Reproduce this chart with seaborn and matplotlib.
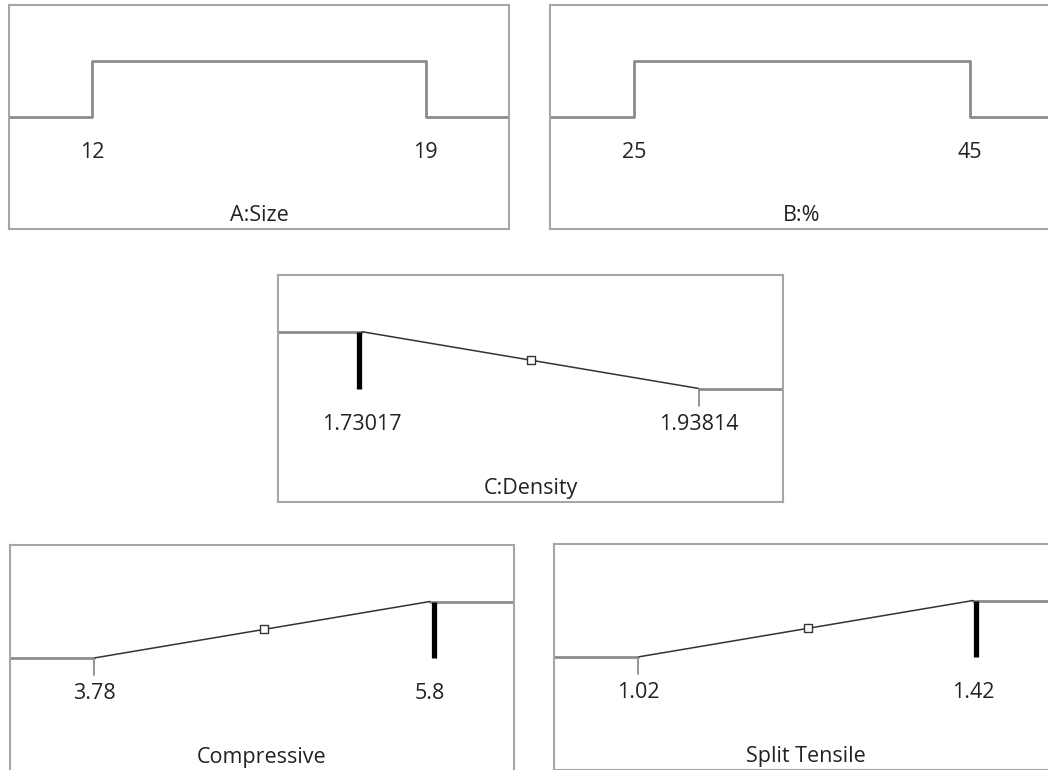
import numpy as np
import pandas as pd
import matplotlib.pyplot as plt
import seaborn as sns

# factor / response ramps (Design-Expert style desirability)
names = ["A:Size", "B:%", "C:Density", "Compressive", "Split Tensile"]
low = [12, 25, 1.73017, 3.78, 1.02]
high = [19, 45, 1.93814, 5.8, 1.42]
low_txt = ["12", "25", "1.73017", "3.78", "1.02"]
high_txt = ["19", "45", "1.93814", "5.8", "1.42"]
goal = ["range", "range", "minimize", "maximize", "maximize"]
solution = [None, None, 1.7280, 5.823, 1.4236]
predicted = [None, None, 1.8342, 4.80, 1.2225]

sns.set_style("white")
plt.rcParams["font.family"] = ["Open Sans", "DejaVu Sans"]

W, H = 1048, 770
fig = plt.figure(figsize=(W / 100, H / 100), dpi=100)

# panel boxes in pixels: left, top, right, bottom
boxes = [(9, 5, 509, 229), (550, 5, 1054, 229), (278, 275, 783, 502),
         (10, 545, 514, 771), (554, 544, 1057, 770)]

flat_col = "#8c8c8c"
ramp_col = "#333333"
txt_col = "#222222"
fs = 15.5

def line(ax, xs, ys, col, lw):
    d = pd.DataFrame({"x": xs, "y": ys})
    sns.lineplot(data=d, x="x", y="y", sort=False, estimator=None, errorbar=None,
                 ax=ax, color=col, lw=lw)

for i in range(5):
    l, t, r, b = boxes[i]
    ax = fig.add_axes([l / W, 1 - b / H, (r - l) / W, (b - t) / H])
    lo, hi = low[i], high[i]
    pad = 0.25 * (hi - lo)
    xmin, xmax = lo - pad, hi + pad

    if goal[i] == "range":
        line(ax, [xmin, lo, lo, hi, hi, xmax], [0, 0, 1, 1, 0, 0], flat_col, 2)
    else:
        if goal[i] == "minimize":
            left_y, right_y = 1, 0
        else:
            left_y, right_y = 0, 1
        line(ax, [xmin, lo], [left_y, left_y], flat_col, 2)
        line(ax, [hi, xmax], [right_y, right_y], flat_col, 2)
        line(ax, [lo, hi], [left_y, right_y], ramp_col, 1.1)
        # small tick at the zero-desirability end
        zx = hi if goal[i] == "minimize" else lo
        ax.plot([zx, zx], [0, -0.3], color=flat_col, lw=1.3)
        # solution bar
        ax.plot([solution[i], solution[i]], [0, 1], color="black", lw=3.8,
                solid_capstyle="butt")
        # predicted marker
        pv = predicted[i]
        py = np.interp(pv, [lo, hi], [left_y, right_y])
        sns.scatterplot(x=[pv], y=[py], ax=ax, marker="s", s=40,
                        color="white", edgecolor="#333333", linewidth=1, zorder=5)

    ax.text(lo, -0.63, low_txt[i], ha="center", va="center", fontsize=fs, color=txt_col)
    ax.text(hi, -0.63, high_txt[i], ha="center", va="center", fontsize=fs, color=txt_col)
    ax.text((lo + hi) / 2, -1.76, names[i], ha="center", va="center", fontsize=fs, color=txt_col)

    ax.set_xlim(xmin, xmax)
    ax.set_ylim(-2, 2)
    ax.set_xticks([])
    ax.set_yticks([])
    ax.set_xlabel("")
    ax.set_ylabel("")
    for s in ax.spines.values():
        s.set_color("#a6a6a6")
        s.set_linewidth(1.5)

fig.savefig("out.png", dpi=100)
